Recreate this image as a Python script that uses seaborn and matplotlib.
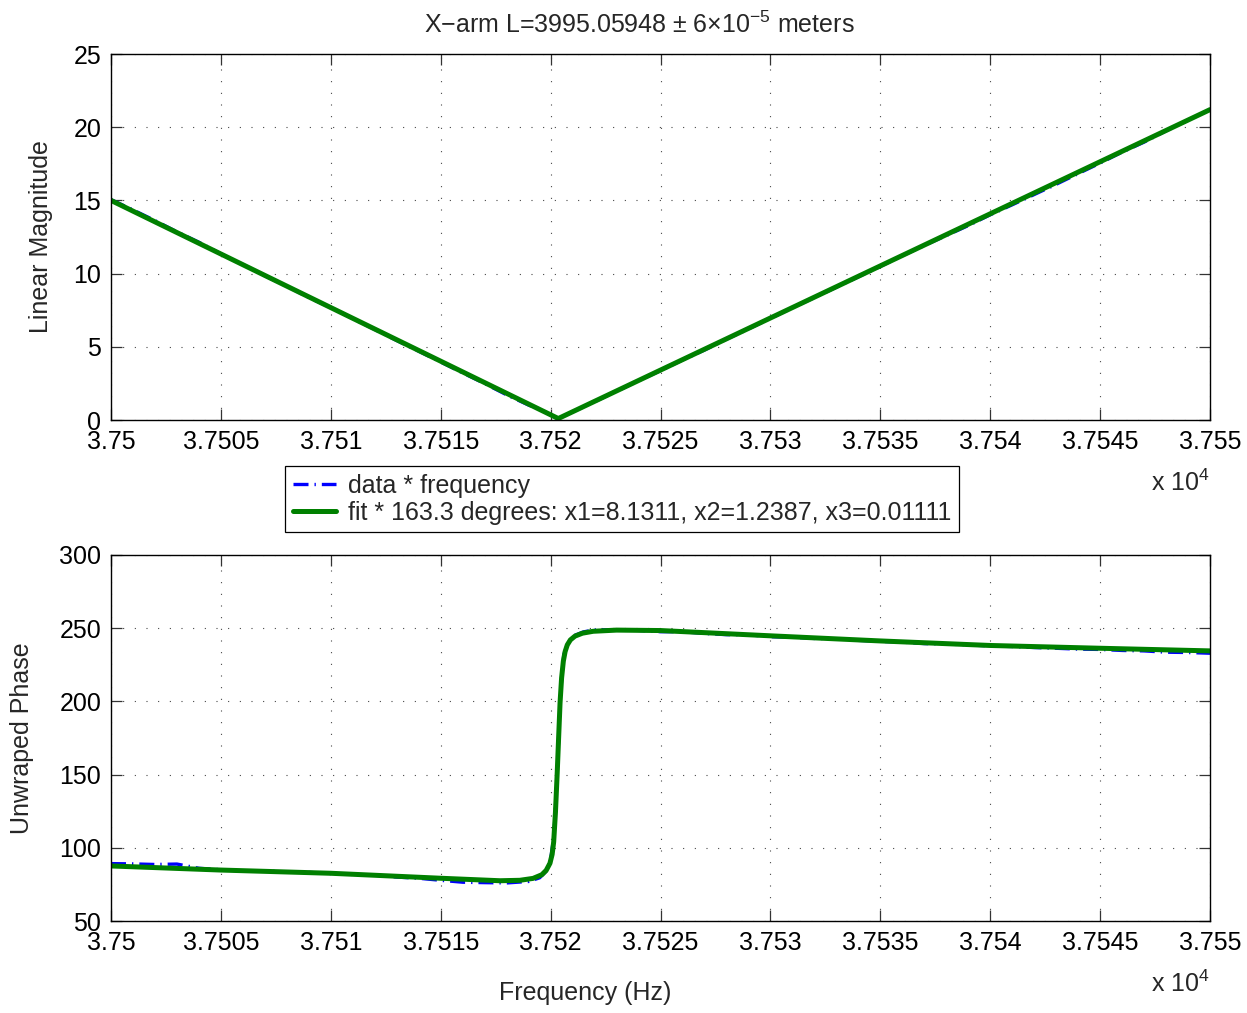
import numpy as np
import pandas as pd
import matplotlib
matplotlib.use("Agg")
import matplotlib.pyplot as plt
from matplotlib.ticker import FixedLocator, FixedFormatter
import seaborn as sns

# ---- measured response (Hz, linear magnitude, unwrapped phase in degrees) ----
freq_data = [37500, 37501, 37502, 37503, 37504, 37505, 37506, 37507, 37508, 37509,
             37510, 37511, 37512, 37513, 37514, 37515, 37516, 37517, 37518, 37519,
             37519.5, 37519.8, 37520.0, 37520.15, 37520.3, 37520.45, 37520.6, 37520.8,
             37521.0, 37521.5, 37522, 37523, 37524, 37525, 37526, 37527, 37528, 37529,
             37530, 37531, 37532, 37533, 37534, 37535, 37536, 37537, 37538, 37539,
             37540, 37541, 37542, 37543, 37544, 37545, 37546, 37547, 37548, 37549, 37550]
mag_data = [15.05, 14.35, 13.62, 12.85, 12.14, 11.35, 10.62, 9.85, 9.14, 8.36,
            7.68, 6.93, 6.18, 5.43, 4.70, 3.96, 3.22, 2.49, 1.72, 1.02,
            0.73, 0.50, 0.34, 0.24, 0.14, 0.17, 0.27, 0.41,
            0.55, 0.90, 1.25, 1.96, 2.68, 3.37, 4.10, 4.78, 5.52, 6.22,
            6.94, 7.66, 8.36, 9.07, 9.78, 10.49, 11.22, 11.92, 12.60, 13.28,
            14.02, 14.70, 15.40, 16.10, 16.83, 17.55, 18.30, 18.98, 19.75, 20.47, 21.22]
phase_data = [89.2, 89.0, 88.6, 88.9, 86.0, 85.0, 84.2, 84.3, 83.5, 83.2,
              82.4, 81.8, 81.3, 80.0, 79.2, 77.8, 76.5, 76.2, 76.0, 77.0,
              79.5, 84.0, 92.0, 108.0, 150.0, 205.0, 232.0, 240.0,
              244.5, 247.5, 248.8, 249.0, 248.5, 247.6, 247.6, 246.4, 245.6, 245.5,
              244.2, 243.8, 243.0, 242.8, 241.7, 241.0, 240.5, 239.5, 239.2, 238.6,
              237.9, 237.5, 236.8, 236.3, 235.7, 235.5, 234.8, 234.5, 233.6, 233.4, 232.9]

# ---- fitted model, sampled ----
freq_fit_mag = [37500, 37520.35, 37550]
mag_fit = [15.0, 0.1, 21.2]

freq_fit_phase = [37500, 37505, 37510, 37515, 37517.7, 37518.6, 37519.2, 37519.6,
                  37519.8, 37519.97, 37520.07, 37520.14, 37520.22, 37520.30, 37520.37,
                  37520.43, 37520.50, 37520.58, 37520.66, 37520.76, 37520.90, 37521.11,
                  37521.45, 37521.94, 37523.0, 37525, 37530, 37535, 37540, 37545, 37550]
phase_fit = [87.6, 84.8, 82.6, 79.2, 77.5, 77.8, 79.1, 81.6,
             84.6, 89.4, 95.5, 104.0, 124.0, 150.9, 177.0,
             199.0, 216.0, 227.5, 234.0, 238.6, 242.0, 244.6,
             246.6, 247.9, 248.7, 248.4, 244.8, 241.3, 238.2, 236.3, 234.5]

x_ticks = [37500, 37505, 37510, 37515, 37520, 37525, 37530, 37535, 37540, 37545, 37550]
x_tick_labels = ["3.75", "3.7505", "3.751", "3.7515", "3.752", "3.7525",
                 "3.753", "3.7535", "3.754", "3.7545", "3.755"]
mag_ticks = [0, 5, 10, 15, 20, 25]
phase_ticks = [50, 100, 150, 200, 250, 300]

label_data = "data * frequency"
label_fit = "fit * 163.3 degrees: x1=8.1311, x2=1.2387, x3=0.01111"

sns.set_theme(style="white")
plt.rcParams["font.family"] = ["Liberation Sans", "DejaVu Sans"]
plt.rcParams["mathtext.fontset"] = "custom"
plt.rcParams["mathtext.rm"] = "Liberation Sans"
plt.rcParams["mathtext.it"] = "Liberation Sans:italic"
plt.rcParams["mathtext.bf"] = "Liberation Sans:bold"

FS = 18
W, H = 1247, 1013
fig = plt.figure(figsize=(W / 100, H / 100), dpi=100)
fig.patch.set_facecolor("white")

def px_axes(x0, y0, x1, y1):
    return fig.add_axes([x0 / W, 1 - y1 / H, (x1 - x0) / W, (y1 - y0) / H])

ax1 = px_axes(111, 54, 1210, 420)
ax2 = px_axes(111, 555, 1210, 921)

df_data = pd.DataFrame({"f": freq_data, "mag": mag_data, "phase": phase_data})
df_fm = pd.DataFrame({"f": freq_fit_mag, "mag": mag_fit})
df_fp = pd.DataFrame({"f": freq_fit_phase, "phase": phase_fit})

blue = "#0000ff"
green = "#008000"
dash_dot = (0, (4.5, 1.8, 0.4, 1.8))

for ax, col, dfit, yticks, ylab, lpad in [
    (ax1, "mag", df_fm, mag_ticks, "Linear Magnitude", 15),
    (ax2, "phase", df_fp, phase_ticks, "Unwraped Phase", 18),
]:
    sns.lineplot(data=df_data, x="f", y=col, ax=ax, color=blue, lw=2.4,
                 linestyle=dash_dot, estimator=None, sort=False, label=label_data)
    sns.lineplot(data=dfit, x="f", y=col, ax=ax, color=green, lw=3.6,
                 estimator=None, sort=False, label=label_fit)
    ax.set_xlim(x_ticks[0], x_ticks[-1])
    ax.set_ylim(yticks[0], yticks[-1])
    ax.xaxis.set_major_locator(FixedLocator(x_ticks))
    ax.xaxis.set_major_formatter(FixedFormatter(x_tick_labels))
    ax.yaxis.set_major_locator(FixedLocator(yticks))
    ax.tick_params(direction="in", length=8, width=0.9, colors="#333333",
                   labelcolor="black", labelsize=FS, top=True, right=True,
                   bottom=True, left=True, pad=7)
    ax.grid(True, color="#333333", linestyle=(0, (0.9, 9.6)), linewidth=0.8)
    for sp in ax.spines.values():
        sp.set_color("black")
        sp.set_linewidth(1.0)
    ax.set_ylabel(ylab, fontsize=FS, labelpad=lpad)
    ax.set_xlabel("")
    ax.legend_.remove()
    ax.text(0.973, -0.172, r"x 10$^{4}$", transform=ax.transAxes,
            ha="center", va="center", fontsize=FS)

ax2.set_xlabel("Frequency (Hz)", fontsize=FS)
ax2.xaxis.set_label_coords((585 - 111) / 1099, (921 - 993) / 366)
ax2.xaxis.label.set_va("center")
ax1.set_title(r"X$-$arm L=3995.05948 $\pm$ 6$\times$10$^{-5}$ meters",
              fontsize=FS, pad=15, x=(639 - 111) / 1099)

handles, labels = ax1.get_legend_handles_labels()
leg = fig.legend(handles, labels, loc="upper left",
                 bbox_to_anchor=(285 / W, 1 - 466 / H), fontsize=FS,
                 frameon=True, fancybox=False, framealpha=1, edgecolor="black",
                 borderpad=0.3, labelspacing=0.13, handlelength=1.72,
                 handletextpad=0.52, borderaxespad=0)
leg.get_frame().set_linewidth(0.9)

fig.savefig("out.png", dpi=100, facecolor="white")
